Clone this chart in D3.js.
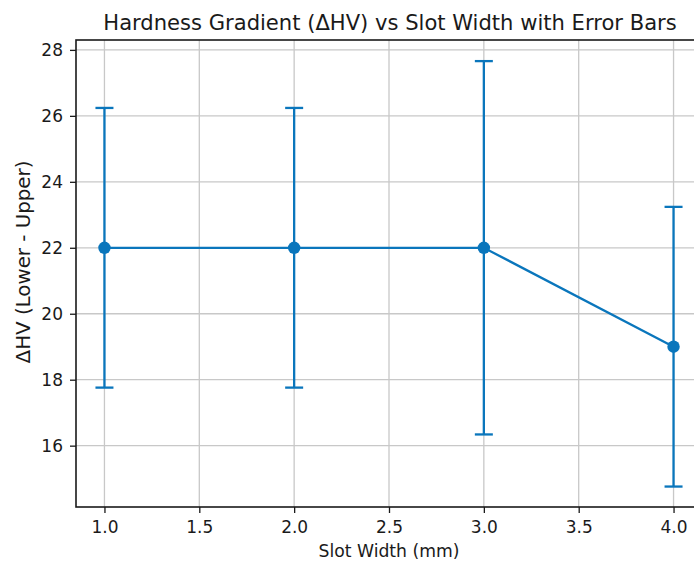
<!DOCTYPE html>
<html><head><meta charset="utf-8">
<script src="https://cdn.jsdelivr.net/npm/d3@7"></script>
<style>body{margin:0;background:#fff;}svg{display:block;font-family:"DejaVu Sans",sans-serif;}</style>
</head><body>
<svg id="chart" width="694" height="563"></svg>
<script>
const slotWidths = [1.0, 2.0, 3.0, 4.0];
const deltaHV = [22, 22, 22, 19];
const errors = [4.24, 4.24, 5.66, 4.24];
const xTicks = [1.0, 1.5, 2.0, 2.5, 3.0, 3.5, 4.0];
const yTicks = [16, 18, 20, 22, 24, 26, 28];
const titleText = "Hardness Gradient (ΔHV) vs Slot Width with Error Bars";
const xLabel = "Slot Width (mm)";
const yLabel = "ΔHV (Lower - Upper)";

const color = "#0A76BC";
const ink = "#1a1a1a";
const svg = d3.select("#chart");
const m = {left: 76, right: 702, top: 40, bottom: 507};

const x = d3.scaleLinear().domain([0.85, 4.15]).range([m.left, m.right]);
const y = d3.scaleLinear().domain([14.14, 28.3]).range([m.bottom, m.top]);

// grid
const g = svg.append("g");
g.selectAll(".vg").data(xTicks).join("line")
  .attr("x1", d => x(d)).attr("x2", d => x(d)).attr("y1", m.top).attr("y2", m.bottom)
  .attr("stroke", "#c8c8c8").attr("stroke-width", 1.3);
g.selectAll(".hg").data(yTicks).join("line")
  .attr("y1", d => y(d)).attr("y2", d => y(d)).attr("x1", m.left).attr("x2", m.right)
  .attr("stroke", "#c8c8c8").attr("stroke-width", 1.3);

// axes
const xAxis = d3.axisBottom(x).tickValues(xTicks).tickFormat(d3.format(".1f")).tickSize(6).tickPadding(8);
const yAxis = d3.axisLeft(y).tickValues(yTicks).tickFormat(d3.format("d")).tickSize(6).tickPadding(7);
const gx = svg.append("g").attr("transform", `translate(0,${m.bottom})`).call(xAxis);
const gy = svg.append("g").attr("transform", `translate(${m.left},0)`).call(yAxis);
[gx, gy].forEach(a => {
  a.select(".domain").remove();
  a.selectAll("text").attr("font-size", 17).attr("fill", ink).attr("font-family", "DejaVu Sans");
  a.selectAll("line").attr("stroke", ink).attr("stroke-width", 1.3);
});

// spines
svg.append("rect").attr("x", m.left).attr("y", m.top)
  .attr("width", m.right - m.left).attr("height", m.bottom - m.top)
  .attr("fill", "none").attr("stroke", ink).attr("stroke-width", 1.6);

// error bars
const data = slotWidths.map((s, i) => ({s, v: deltaHV[i], e: errors[i]}));
const eb = svg.append("g");
eb.selectAll(".ev").data(data).join("line")
  .attr("x1", d => x(d.s)).attr("x2", d => x(d.s))
  .attr("y1", d => y(d.v - d.e)).attr("y2", d => y(d.v + d.e))
  .attr("stroke", color).attr("stroke-width", 2.3);
["lo", "hi"].forEach(k => {
  eb.selectAll(".cap" + k).data(data).join("line")
    .attr("x1", d => x(d.s) - 9).attr("x2", d => x(d.s) + 9)
    .attr("y1", d => y(k === "lo" ? d.v - d.e : d.v + d.e))
    .attr("y2", d => y(k === "lo" ? d.v - d.e : d.v + d.e))
    .attr("stroke", color).attr("stroke-width", 2.3);
});

// line
svg.append("path").datum(data)
  .attr("d", d3.line().x(d => x(d.s)).y(d => y(d.v)))
  .attr("fill", "none").attr("stroke", color).attr("stroke-width", 2.3);
svg.selectAll(".pt").data(data).join("circle")
  .attr("cx", d => x(d.s)).attr("cy", d => y(d.v)).attr("r", 6.2)
  .attr("fill", color);

// labels, sized to the reference widths
function fit(sel, target) {
  sel.attr("font-size", 10);
  const w = sel.node().getComputedTextLength();
  sel.attr("font-size", 10 * target / w);
}
const t = svg.append("text").attr("x", 390).attr("y", 29.5)
  .attr("text-anchor", "middle").attr("fill", ink).text(titleText);
fit(t, 574);
const xl = svg.append("text").attr("x", 389).attr("y", 557)
  .attr("text-anchor", "middle").attr("fill", ink).text(xLabel);
fit(xl, 141);
const yl = svg.append("text").attr("transform", `translate(30,262) rotate(-90)`)
  .attr("text-anchor", "middle").attr("fill", ink).text(yLabel);
fit(yl, 203);
</script>
</body></html>
